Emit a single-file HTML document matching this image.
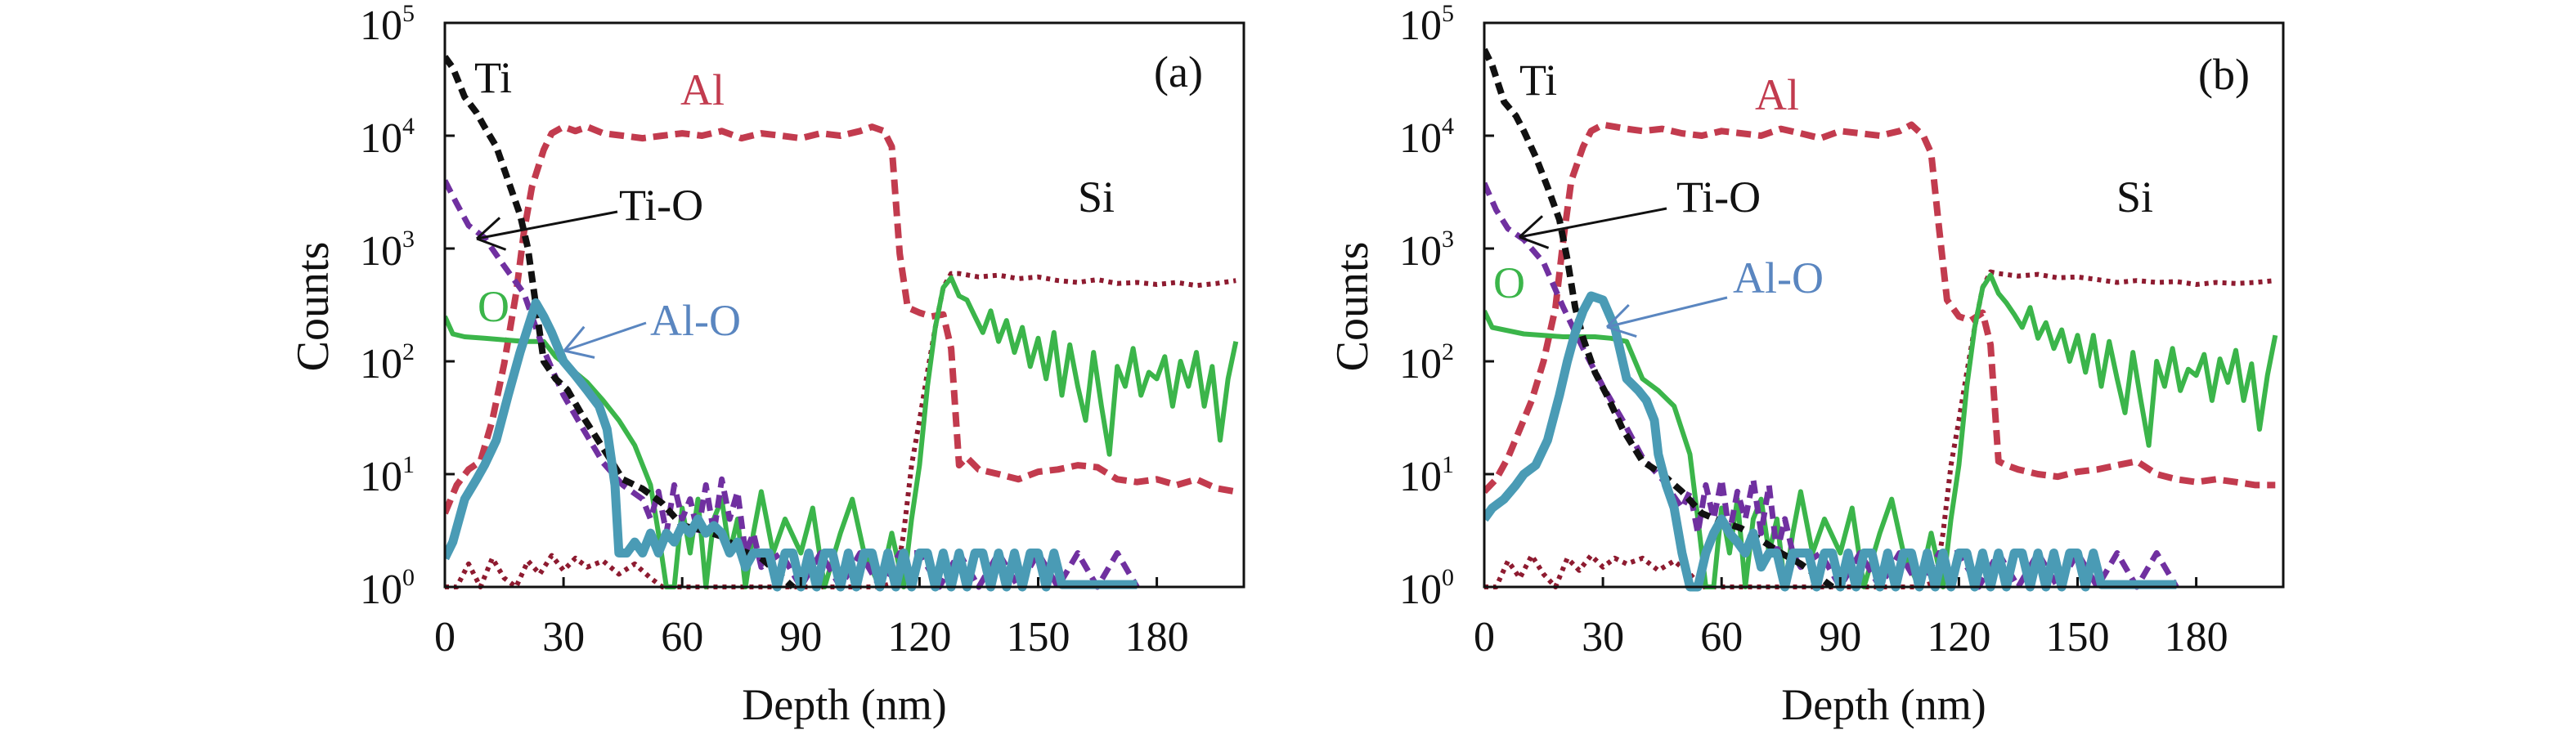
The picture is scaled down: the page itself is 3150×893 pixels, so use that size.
<!DOCTYPE html>
<html><head><meta charset="utf-8">
<style>
html,body{margin:0;padding:0;background:#fff;}
svg{display:block;font-family:"Liberation Serif",serif;}
</style></head>
<body>
<svg id="chart" width="3150" height="893" viewBox="0 0 3150 893" xmlns="http://www.w3.org/2000/svg"></svg>
<script>
// ---------- Data (counts vs depth in nm) ----------
const xTicks = [0,30,60,90,120,150,180];
const yDecades = [0,1,2,3,4,5];

// Panel (a)
const aTiDepth = [0,2,5,8,10,13,16,19,21,23,25,28,31,35,40,45,50,55,60,65,70,75,80,85,88];
const aTiCounts = [50000,40000,22000,16000,12000,8000,4000,2000,1000,316,100,70,56,32,17,9,7.4,5.5,3.5,3.2,2.8,2.1,1.8,1.25,1];
const aTiODepth = [0,3,6,10,15,20,25,30,35,40,45,50,52,54,56,58,60,62,64,66,68,70,72,74,76,78,80,85,90,95,100,105,110,115,120,125,130,135,140,145,150,155,160,165,170,175];
const aTiOCounts = [4000,2500,1600,1250,700,400,126,50,25,12.6,8,6,4,7,3,8,4,6,3,8,3,9,4,7,2,3,1.5,2,1,2,1,2,1,2,2,1,2,1,2,1,2,1,2,1,2,1];
const aAlDepth = [0,3,6,9,12,15,18,20,22,25,27,30,33,36,40,45,50,55,60,65,70,75,80,85,90,95,100,105,108,111,113,115,117,120,123,126,128,130,132,135,140,145,150,155,160,165,170,175,180,185,190,195,200];
const aAlCounts = [4.5,8,11,13,30,95,400,1400,3500,7500,10500,12000,11000,12000,10500,10000,9500,10000,10500,10000,11000,9500,10500,10000,9500,10500,10000,11000,12000,11000,8000,900,300,270,250,260,130,12,14,11,10,9,10.5,11,12,11.5,9,8.5,9,8,9,7.5,7];
const aSiDepth = [0,3,6,9,12,15,18,21,24,27,30,33,36,40,44,48,52,55,60,70,80,90,100,110,114,116,118,120,122,124,126,128,130,135,140,145,150,155,160,165,170,175,180,185,190,195,200];
const aSiCounts = [1,1,1.6,1,1.8,1.2,1,1.7,1.3,1.9,1.4,1.8,1.5,1.7,1.3,1.6,1.2,1,1,1,1,1,1,1,1.1,3,12,30,80,200,450,600,600,560,580,540,560,520,500,530,490,500,480,500,470,490,520];
const aODepth = [0,2,5,10,15,20,25,28,32,36,40,44,48,52,54,56,58,60,62,64,66,68,70,72,74,76,78,80,83,86,90,93,96,100,103,106,110,113,116,118,120,122,124,126,128,130,132,134,136,138,140,142,144,146,148,150,152,154,156,158,160,162,164,166,168,170,172,174,176,178,180,182,184,186,188,190,192,194,196,198,200];
const aOCounts = [250,175,165,160,155,150,150,110,85,65,45,30,18,8,3,1,1,5,2,6,1,4,6,2,4,1,3,7,2,4,2,5,1,3,6,2,1,3,1,4,12,60,200,450,550,380,350,250,180,280,150,230,120,200,90,160,70,180,50,140,60,30,120,40,15,90,60,130,50,80,70,110,40,100,60,120,40,90,20,70,150];
const aAlODepth = [0,2,5,8,10,13,16,19,21,23,25,27,30,33,36,39,41,43,44,46,48,50,52,54,56,58,60,62,64,66,68,70,72,74,76,78,80,82,84,86,88,90,92,94,96,98,100,102,104,106,108,110,112,114,116,118,120,122,124,126,128,130,132,134,136,138,140,142,144,146,148,150,152,154,156,175];
const aAlOCounts = [1.8,2.5,6,9,12,20,50,120,200,330,250,180,100,75,55,40,25,8,2,2,2.5,2,3,2,3,2.5,3.5,3,4,3,3.5,3,2,2.5,1.5,2,2,2,1,2,2,1,2,1,2,2,1,2,1,2,2,1,2,1,2,1,2,2,1,2,1,2,1,2,2,1,2,1,2,1,2,2,1,2,1.05,1.05];

// Panel (b)
const bTiDepth = [0,2,5,8,10,13,16,19,21,23,25,28,31,35,40,45,50,55,60,65,70,75,80,85,88];
const bTiCounts = [58000,42000,20000,15000,11000,6500,3500,1800,800,300,160,80,50,25,13,10,7,4.5,3.8,3.3,2.6,2,1.6,1.2,1];
const bTiODepth = [0,3,6,10,15,20,25,30,35,40,45,50,52,54,56,58,60,62,64,66,68,70,72,74,76,78,80,85,90,95,100,105,110,115,120,125,130,135,140,145,150,155,160,165,170,175];
const bTiOCounts = [3800,2200,1500,1200,750,300,130,60,30,14,9,5,7,3,8,4,9,3,7,4,9,3,8,2,4,2,1.5,2,1,2,1,2,1,2,2,1,2,1,2,1,2,1,2,1,2,1];
const bAlDepth = [0,3,6,9,12,15,18,20,22,25,27,30,33,36,40,45,50,55,60,65,70,75,80,85,90,95,100,105,108,111,113,115,117,120,123,126,128,130,132,135,140,145,150,155,160,165,170,175,180,185,190,195,200];
const bAlCounts = [7,9,14,25,45,100,300,1200,4000,8000,11000,12500,12000,11500,11000,11500,10500,10000,11000,10500,10000,11500,10500,9500,11000,10500,10000,11000,12500,10000,7000,1500,350,250,230,270,140,13,12,11,10,9.5,10.5,11,12,13,10,9,8.5,9,8.5,8,8];
const bSiDepth = [0,3,6,9,12,15,18,21,24,27,30,33,36,40,44,48,52,55,60,70,80,90,100,110,114,116,118,120,122,124,126,128,130,135,140,145,150,155,160,165,170,175,180,185,190,195,200];
const bSiCounts = [1,1,1.7,1.2,1.9,1.3,1,1.8,1.4,1.9,1.5,1.8,1.6,1.8,1.4,1.7,1.3,1,1,1,1,1,1,1,1.1,3,12,30,80,200,450,620,600,570,590,550,560,530,500,520,500,510,480,500,490,500,520];
const bODepth = aODepth;
const bOCounts = [280,200,190,175,170,165,165,165,160,150,70,55,40,15,4,1,1,5,2,6,1,4,6,2,4,1,3,7,2,4,2,5,1,3,6,2,1,3,1,4,12,60,200,450,580,400,330,260,200,300,160,220,130,190,100,170,80,170,60,150,70,35,120,45,18,100,60,130,55,85,75,115,45,105,65,125,45,95,25,75,170];
const bAlODepth = aAlODepth;
const bAlOCounts = [4,5,6,8,10,12,20,50,100,180,280,380,350,200,70,55,45,30,15,8,5,2,1,1,2,3,4,3,2.5,2,3,1.5,2,2,1,2,2,2,1,2,2,1,2,1,2,2,1,2,1,2,2,1,2,1,2,1,2,2,1,2,1,2,1,2,2,1,2,1,2,1,2,2,1,2,1.05,1.05];

// ---------- Drawing ----------
const NS = "http://www.w3.org/2000/svg";
const svg = document.getElementById('chart');
function mk(tag, attrs, parent){
  const e = document.createElementNS(NS, tag);
  for (const k in attrs) e.setAttribute(k, attrs[k]);
  (parent||svg).appendChild(e);
  return e;
}

function drawPanel(P, D){
  const g = mk('g', {});
  
  
  const xs = v => P.left + (v / 202) * (P.right - P.left);
  const ys = c => P.bottom - Math.log10(Math.max(c, 1)) / 5 * (P.bottom - P.top);

  const clipId = 'clip' + P.id;
  const cp = mk('clipPath', {id: clipId}, g);
  mk('rect', {x: P.left, y: P.top, width: P.right - P.left, height: P.bottom - P.top + 14}, cp);

  const series = [
    {name:'si-series', d:D.siD, c:D.siC, color:'#8e1b30', w:6, dash:'5 6'},
    {name:'al-series', d:D.alD, c:D.alC, color:'#c23b4e', w:8, dash:'18 9'},
    {name:'o-series', d:D.oD, c:D.oC, color:'#3bb54a', w:6, dash:''},
    {name:'ti-o-series', d:D.tioD, c:D.tioC, color:'#7030a0', w:7, dash:'16 9'},
    {name:'ti-series', d:D.tiD, c:D.tiC, color:'#111111', w:8, dash:'14 8'},
    {name:'al-o-series', d:D.aloD, c:D.aloC, color:'#4a9bb5', w:11, dash:''}
  ];
  const sg = mk('g', {'clip-path': 'url(#' + clipId + ')'}, g);
  series.forEach(s => {
    const n = Math.min(s.d.length, s.c.length);
    let pts = [];
    for (let i = 0; i < n; i++) pts.push(xs(s.d[i]).toFixed(1) + ',' + ys(s.c[i]).toFixed(1));
    const pl = mk('polyline', {points: pts.join(' '), fill:'none', stroke:s.color, 'stroke-width':s.w, 'stroke-linejoin':'round', 'stroke-dasharray':s.dash}, sg);
    
    
  });

  const fr = mk('rect', {x:P.left, y:P.top, width:P.right-P.left, height:P.bottom-P.top, fill:'none', stroke:'#111', 'stroke-width':3}, g);
  
  

  xTicks.forEach(t => {
    const x = xs(t);
    if (t > 0) mk('line', {x1:x, x2:x, y1:P.bottom, y2:P.bottom-12, stroke:'#111', 'stroke-width':3}, g);
    const tl = mk('text', {x:x, y:P.bottom+78, 'font-size':52, 'text-anchor':'middle', fill:'#111'}, g);
    tl.textContent = t;
    
    
  });
  yDecades.forEach(k => {
    const y = P.bottom - k / 5 * (P.bottom - P.top);
    if (k > 0 && k < 5) mk('line', {x1:P.left, x2:P.left+12, y1:y, y2:y, stroke:'#111', 'stroke-width':3}, g);
    const tl = mk('text', {x:P.left-104, y:y+20, 'font-size':52, fill:'#111'}, g);
    
    
    tl.appendChild(document.createTextNode('10'));
    const sp = mk('tspan', {'font-size':30, dy:-22}, tl);
    sp.textContent = k;
  });
  const xt = mk('text', {x:(P.left+P.right)/2, y:880, 'font-size':54, 'text-anchor':'middle', fill:'#111'}, g);
  xt.textContent = 'Depth (nm)';
  
  
  const yt = mk('text', {x:0, y:0, 'font-size':56, 'text-anchor':'middle', fill:'#111', transform:'translate(' + (P.left-143) + ',375) rotate(-90)'}, g);
  yt.textContent = 'Counts';
  
  

  P.labels.forEach(L => {
    const t = mk('text', {x:L.x, y:L.y, 'font-size':L.fs||54, fill:L.color, 'text-anchor':'start'}, g);
    t.textContent = L.text;
    
    
  });
  P.arrows.forEach(A => {
    const ag = mk('g', {stroke:A.color, 'stroke-width':A.w, fill:'none'}, g);
    
    
    mk('line', {x1:A.x1, y1:A.y1, x2:A.x2, y2:A.y2}, ag);
    const ang = Math.atan2(A.y1 - A.y2, A.x1 - A.x2);
    [0.55, -0.55].forEach(da => {
      mk('line', {x1:A.x2, y1:A.y2, x2:A.x2 + 38*Math.cos(ang+da), y2:A.y2 + 38*Math.sin(ang+da)}, ag);
    });
  });
}

drawPanel({
  id:'a', left:544, right:1521, top:28, bottom:718,
  labels:[
    {text:'Ti', x:580, y:113, color:'#111', name:'ti-label'},
    {text:'Al', x:832, y:128, color:'#c23b4e', name:'al-label'},
    {text:'(a)', x:1411, y:106, color:'#111', name:'panel-a-label'},
    {text:'Ti-O', x:757, y:269, color:'#111', name:'ti-o-label'},
    {text:'Si', x:1318, y:259, color:'#111', name:'si-label'},
    {text:'O', x:584, y:393, color:'#3bb54a', name:'o-label'},
    {text:'Al-O', x:795, y:410, color:'#5a86c0', name:'al-o-label'}
  ],
  arrows:[
    {x1:755, y1:259, x2:583, y2:292, color:'#111', w:3, name:'ti-o-arrow'},
    {x1:790, y1:395, x2:690, y2:429, color:'#5a86c0', w:3, name:'al-o-arrow'}
  ]
}, {tiD:aTiDepth, tiC:aTiCounts, tioD:aTiODepth, tioC:aTiOCounts, alD:aAlDepth, alC:aAlCounts,
    siD:aSiDepth, siC:aSiCounts, oD:aODepth, oC:aOCounts, aloD:aAlODepth, aloC:aAlOCounts});

drawPanel({
  id:'b', left:1815, right:2792, top:28, bottom:718,
  labels:[
    {text:'Ti', x:1858, y:116, color:'#111', name:'ti-label'},
    {text:'Al', x:2146, y:134, color:'#c23b4e', name:'al-label'},
    {text:'(b)', x:2688, y:109, color:'#111', name:'panel-b-label'},
    {text:'Ti-O', x:2050, y:259, color:'#111', name:'ti-o-label'},
    {text:'Si', x:2588, y:259, color:'#111', name:'si-label'},
    {text:'O', x:1826, y:364, color:'#3bb54a', name:'o-label'},
    {text:'Al-O', x:2119, y:358, color:'#5a86c0', name:'al-o-label'}
  ],
  arrows:[
    {x1:2038, y1:255, x2:1858, y2:290, color:'#111', w:3, name:'ti-o-arrow'},
    {x1:2112, y1:364, x2:1965, y2:400, color:'#5a86c0', w:3, name:'al-o-arrow'}
  ]
}, {tiD:bTiDepth, tiC:bTiCounts, tioD:bTiODepth, tioC:bTiOCounts, alD:bAlDepth, alC:bAlCounts,
    siD:bSiDepth, siC:bSiCounts, oD:bODepth, oC:bOCounts, aloD:bAlODepth, aloC:bAlOCounts});
</script>
</body></html>
